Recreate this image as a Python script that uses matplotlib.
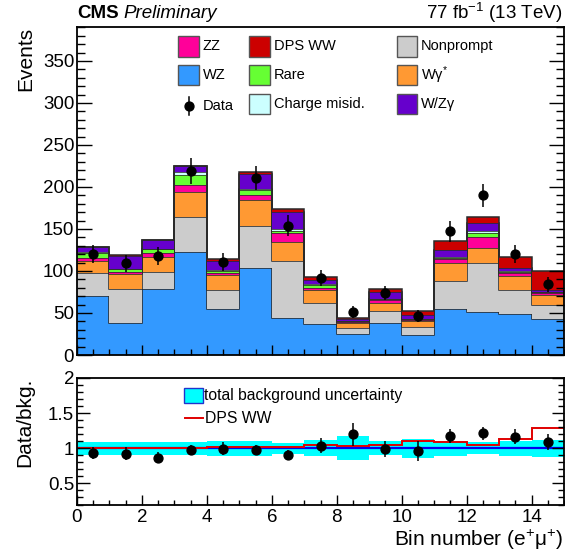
import numpy as np
import matplotlib
matplotlib.use('Agg')
import matplotlib.pyplot as plt
from matplotlib.patches import Rectangle
from matplotlib.lines import Line2D
from matplotlib.ticker import MultipleLocator, FuncFormatter

plt.rcParams['font.family'] = ['Liberation Sans', 'DejaVu Sans']
plt.rcParams['mathtext.fontset'] = 'custom'
plt.rcParams['mathtext.rm'] = 'Liberation Sans'
plt.rcParams['mathtext.it'] = 'Liberation Sans:italic'
plt.rcParams['mathtext.bf'] = 'Liberation Sans:bold'

# ---------------- data ----------------
edges = np.arange(16)
wz        = [70.6, 38.5, 78.0, 122.6, 55.0, 103.0, 43.6, 37.0, 25.0, 37.7, 23.8, 54.4, 51.6, 48.8, 42.5]
nonprompt = [27.4, 40.1, 20.4, 41.4, 22.0, 50.0, 67.9, 24.5, 6.7, 14.3, 9.9, 34.1, 57.4, 28.2, 17.5]
wgstar    = [14.0, 17.4, 18.6, 30.0, 18.0, 31.0, 22.5, 15.5, 6.8, 10.0, 6.8, 20.5, 18.8, 17.0, 11.4]
zz        = [4.0, 2.4, 4.0, 8.0, 3.0, 6.0, 11.6, 3.0, 1.0, 3.5, 1.5, 5.0, 13.2, 3.0, 2.6]
rare      = [5.0, 3.6, 5.0, 12.0, 2.0, 6.4, 2.4, 3.0, 0.5, 1.0, 0.5, 2.0, 4.6, 2.0, 1.0]
chmisid   = [1.0, 0.5, 0.5, 3.5, 1.0, 0.6, 2.0, 1.0, 0.5, 0.5, 0.5, 1.0, 1.4, 0.5, 0.5]
wzgamma   = [6.0, 15.5, 10.0, 7.5, 11.0, 18.5, 20.6, 5.0, 2.0, 7.6, 5.0, 8.0, 9.7, 3.5, 1.9]
dpsww     = [0.5, 0.5, 0.5, 0.5, 2.0, 2.5, 3.4, 4.0, 1.1, 3.4, 4.8, 10.7, 7.3, 13.7, 22.6]

data      = [120, 109, 118, 219, 111, 211, 154, 92, 51, 74, 46, 147, 190, 120, 84]
data_err  = [11, 10.5, 11, 15, 10.5, 14.5, 12.5, 9.5, 7, 8.5, 7, 12, 14, 11, 9]

bkg_unc_rel = [0.094, 0.094, 0.094, 0.094, 0.105, 0.105, 0.08, 0.115, 0.17, 0.10,
               0.135, 0.105, 0.087, 0.105, 0.117]

stack_names = ['WZ', 'Nonprompt', 'Wγ$^{*}$', 'ZZ', 'Rare', 'Charge misid.', 'W/Zγ', 'DPS WW']
stack_vals = [wz, nonprompt, wgstar, zz, rare, chmisid, wzgamma, dpsww]
stack_cols = ['#3399ff', '#cccccc', '#ff9933', '#ff0099', '#66ff33', '#ccffff', '#6600cc', '#cc0000']

# ---------------- figure ----------------
W, H = 565, 552
fig = plt.figure(figsize=(W / 100, H / 100), dpi=100)

def fx(px):
    return px / W

def fy(py):
    return 1 - py / H

L, R = 77, 564
ax1 = fig.add_axes([fx(L), fy(355), (R - L) / W, (355 - 27.3) / H])
ax2 = fig.add_axes([fx(L), fy(504.5), (R - L) / W, (504.5 - 378) / H])

centers = 0.5 * (edges[:-1] + edges[1:])
edgecol = '#2a2a2a'

bottom = np.zeros(15)
for vals, col in zip(stack_vals, stack_cols):
    top = bottom + np.array(vals)
    ax1.stairs(top, edges, baseline=bottom, fill=True, facecolor=col, edgecolor='none', lw=0)
    ax1.stairs(top, edges, baseline=None, color=edgecol, lw=1.1)
    bottom = top

ax1.errorbar(centers, data, yerr=data_err, fmt='o', color='black', ms=6.4,
             elinewidth=1.1, capsize=0, zorder=5)

ax1.set_xlim(0, 15)
ax1.set_ylim(0, 390)
ax1.yaxis.set_major_locator(MultipleLocator(50))
ax1.yaxis.set_minor_locator(MultipleLocator(10))
ax1.xaxis.set_major_locator(MultipleLocator(2))
ax1.xaxis.set_minor_locator(MultipleLocator(0.5))
ax1.tick_params(axis='y', which='major', direction='in', length=11, width=1, right=True,
                labelsize=13.5, pad=2)
ax1.tick_params(axis='y', which='minor', direction='in', length=6, width=1, right=True)
ax1.tick_params(axis='x', which='major', direction='in', length=7, width=1, labelbottom=False)
ax1.tick_params(axis='x', which='minor', direction='in', length=4, width=1)
for s in ax1.spines.values():
    s.set_linewidth(1.3)

# ---------------- legend (top) ----------------
def leg_box(x, yc, col, label):
    fig.patches.append(Rectangle((fx(x), fy(yc + 10.3)), 20.5 / W, 20.5 / H,
                                 transform=fig.transFigure, facecolor=col,
                                 edgecolor='#555555', lw=1, zorder=10))
    fig.text(fx(x + 24.5), fy(yc), label, fontsize=10.5, ha='left', va='center', zorder=11)

cols_x = [178.3, 249.3, 396.7]
rows_y = [46.3, 74.7, 103.7]
leg_box(cols_x[0], rows_y[0], stack_cols[3], stack_names[3])
leg_box(cols_x[0], rows_y[1], stack_cols[0], stack_names[0])
leg_box(cols_x[1], rows_y[0], stack_cols[7], stack_names[7])
leg_box(cols_x[1], rows_y[1], stack_cols[4], stack_names[4])
leg_box(cols_x[1], rows_y[2], stack_cols[5], stack_names[5])
leg_box(cols_x[2], rows_y[0], stack_cols[1], stack_names[1])
leg_box(cols_x[2], rows_y[1], stack_cols[2], stack_names[2])
leg_box(cols_x[2], rows_y[2], stack_cols[6], stack_names[6])
# data entry
fig.lines.append(Line2D([fx(189.3), fx(189.3)], [fy(97), fy(115)], transform=fig.transFigure,
                        color='black', lw=1.1))
fig.lines.append(Line2D([fx(189.3)], [fy(106)], transform=fig.transFigure, marker='o',
                        color='black', ms=6.4))
fig.text(fx(cols_x[0] + 24.5), fy(106), 'Data', fontsize=10.5, ha='left', va='center')

# ---------------- ratio panel ----------------
bkg = np.sum(np.array(stack_vals[:-1]), axis=0)
unc = np.array(bkg_unc_rel)
ratio = np.array(data) / bkg
ratio_err = np.array(data_err) / bkg
dps_ratio = (bkg + np.array(dpsww)) / bkg

ax2.stairs(1 + unc, edges, baseline=1 - unc, fill=True, facecolor='#00ffff', edgecolor='none')
ax2.stairs(np.ones(15), edges, baseline=None, color='#0000ee', lw=1.6)
ax2.stairs(dps_ratio, edges, baseline=None, color='#e00000', lw=1.4)
ax2.errorbar(centers, ratio, yerr=ratio_err, fmt='o', color='black', ms=6.4,
             elinewidth=1.1, capsize=0, zorder=5)

ax2.set_xlim(0, 15)
ax2.set_ylim(0.2, 2.0)
ax2.yaxis.set_major_locator(MultipleLocator(0.5))
ax2.yaxis.set_minor_locator(MultipleLocator(0.1))
ax2.yaxis.set_major_formatter(FuncFormatter(lambda v, p: '%g' % v))
ax2.xaxis.set_major_locator(MultipleLocator(2))
ax2.xaxis.set_minor_locator(MultipleLocator(0.5))
ax2.tick_params(axis='y', which='major', direction='in', length=9, width=1, right=True,
                labelsize=13.5, pad=2)
ax2.tick_params(axis='y', which='minor', direction='in', length=4.5, width=1, right=True)
ax2.tick_params(axis='x', which='major', direction='in', length=7, width=1, labelsize=13.5, pad=3)
ax2.tick_params(axis='x', which='minor', direction='in', length=3.5, width=1)
for s in ax2.spines.values():
    s.set_linewidth(1.3)

# ratio legend
fig.patches.append(Rectangle((fx(184.3), fy(403.3)), 18.4 / W, 15 / H, transform=fig.transFigure,
                             facecolor='#00ffff', edgecolor='#2233cc', lw=1, zorder=10))
fig.text(fx(204.5), fy(395.7), 'total background uncertainty', fontsize=11.3, ha='left', va='center')
fig.lines.append(Line2D([fx(185), fx(202.7)], [fy(418.3), fy(418.3)], transform=fig.transFigure,
                        color='#e00000', lw=1.4))
fig.text(fx(205), fy(418.3), 'DPS WW', fontsize=11.3, ha='left', va='center')

# ---------------- labels / header ----------------
fig.text(fx(26), fy(27), 'Events', rotation=90, ha='center', va='top', fontsize=15)
fig.text(fx(25), fy(378), 'Data/bkg.', rotation=90, ha='center', va='top', fontsize=15)
fig.text(fx(563), fy(540), 'Bin number (e$^{+}$μ$^{+}$)', ha='right', va='center', fontsize=15)

t_cms = fig.text(fx(77), fy(13), 'CMS', fontweight='bold', fontsize=13.5, ha='left', va='center')
fig.canvas.draw()
bb = t_cms.get_window_extent(renderer=fig.canvas.get_renderer())
fig.text(fx(bb.x1 + 5), fy(13), 'Preliminary', fontstyle='italic', fontsize=13.5,
         ha='left', va='center')
fig.text(fx(562), fy(13), '77 fb$^{-1}$ (13 TeV)', fontsize=13.5, ha='right', va='center')

fig.savefig('out.png', dpi=100)
